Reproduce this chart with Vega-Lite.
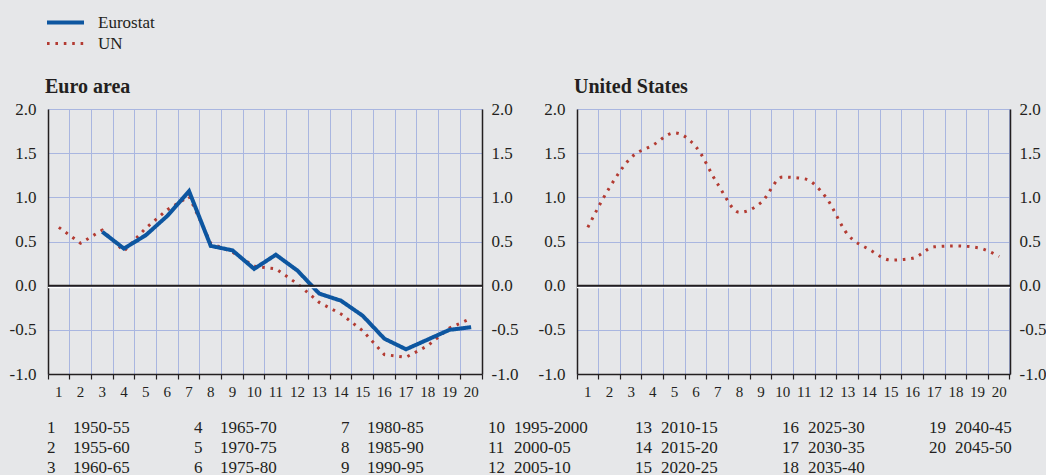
{
  "$schema": "https://vega.github.io/schema/vega-lite/v6.json",
  "background": "#e6e7e9",
  "padding": {"left": 9, "top": 14, "right": 0, "bottom": 0},
  "config": {
    "view": {"stroke": null},
    "font": "Liberation Serif",
    "axis": {"labelFont": "Liberation Serif", "labelColor": "#231f20", "titleFont": "Liberation Serif"},
    "legend": {"labelFont": "Liberation Serif"},
    "text": {"font": "Liberation Serif"}
  },
  "datasets": {
    "series": [
      {"region": "Euro area", "series": "UN", "period": 1, "value": 0.66},
      {"region": "Euro area", "series": "UN", "period": 2, "value": 0.48},
      {"region": "Euro area", "series": "UN", "period": 3, "value": 0.63},
      {"region": "Euro area", "series": "UN", "period": 4, "value": 0.39},
      {"region": "Euro area", "series": "UN", "period": 5, "value": 0.65},
      {"region": "Euro area", "series": "UN", "period": 6, "value": 0.86},
      {"region": "Euro area", "series": "UN", "period": 7, "value": 1.01},
      {"region": "Euro area", "series": "UN", "period": 8, "value": 0.48},
      {"region": "Euro area", "series": "UN", "period": 9, "value": 0.38},
      {"region": "Euro area", "series": "UN", "period": 10, "value": 0.22},
      {"region": "Euro area", "series": "UN", "period": 11, "value": 0.19},
      {"region": "Euro area", "series": "UN", "period": 12, "value": 0.02},
      {"region": "Euro area", "series": "UN", "period": 13, "value": -0.19},
      {"region": "Euro area", "series": "UN", "period": 14, "value": -0.32},
      {"region": "Euro area", "series": "UN", "period": 15, "value": -0.51},
      {"region": "Euro area", "series": "UN", "period": 16, "value": -0.78},
      {"region": "Euro area", "series": "UN", "period": 17, "value": -0.81},
      {"region": "Euro area", "series": "UN", "period": 18, "value": -0.68},
      {"region": "Euro area", "series": "UN", "period": 19, "value": -0.48},
      {"region": "Euro area", "series": "UN", "period": 20, "value": -0.37},
      {"region": "Euro area", "series": "Eurostat", "period": 3, "value": 0.61},
      {"region": "Euro area", "series": "Eurostat", "period": 4, "value": 0.42},
      {"region": "Euro area", "series": "Eurostat", "period": 5, "value": 0.57},
      {"region": "Euro area", "series": "Eurostat", "period": 6, "value": 0.79},
      {"region": "Euro area", "series": "Eurostat", "period": 7, "value": 1.07},
      {"region": "Euro area", "series": "Eurostat", "period": 8, "value": 0.45},
      {"region": "Euro area", "series": "Eurostat", "period": 9, "value": 0.40},
      {"region": "Euro area", "series": "Eurostat", "period": 10, "value": 0.19},
      {"region": "Euro area", "series": "Eurostat", "period": 11, "value": 0.35},
      {"region": "Euro area", "series": "Eurostat", "period": 12, "value": 0.17},
      {"region": "Euro area", "series": "Eurostat", "period": 13, "value": -0.09},
      {"region": "Euro area", "series": "Eurostat", "period": 14, "value": -0.17},
      {"region": "Euro area", "series": "Eurostat", "period": 15, "value": -0.34},
      {"region": "Euro area", "series": "Eurostat", "period": 16, "value": -0.60},
      {"region": "Euro area", "series": "Eurostat", "period": 17, "value": -0.72},
      {"region": "Euro area", "series": "Eurostat", "period": 18, "value": -0.61},
      {"region": "Euro area", "series": "Eurostat", "period": 19, "value": -0.50},
      {"region": "Euro area", "series": "Eurostat", "period": 20, "value": -0.47},
      {"region": "United States", "series": "UN", "period": 1, "value": 0.66},
      {"region": "United States", "series": "UN", "period": 2, "value": 1.11},
      {"region": "United States", "series": "UN", "period": 3, "value": 1.45},
      {"region": "United States", "series": "UN", "period": 4, "value": 1.59},
      {"region": "United States", "series": "UN", "period": 5, "value": 1.73},
      {"region": "United States", "series": "UN", "period": 6, "value": 1.57},
      {"region": "United States", "series": "UN", "period": 7, "value": 1.15},
      {"region": "United States", "series": "UN", "period": 8, "value": 0.83},
      {"region": "United States", "series": "UN", "period": 9, "value": 0.94},
      {"region": "United States", "series": "UN", "period": 10, "value": 1.23},
      {"region": "United States", "series": "UN", "period": 11, "value": 1.21},
      {"region": "United States", "series": "UN", "period": 12, "value": 1.00},
      {"region": "United States", "series": "UN", "period": 13, "value": 0.58},
      {"region": "United States", "series": "UN", "period": 14, "value": 0.41},
      {"region": "United States", "series": "UN", "period": 15, "value": 0.29},
      {"region": "United States", "series": "UN", "period": 16, "value": 0.31},
      {"region": "United States", "series": "UN", "period": 17, "value": 0.44},
      {"region": "United States", "series": "UN", "period": 18, "value": 0.45},
      {"region": "United States", "series": "UN", "period": 19, "value": 0.43},
      {"region": "United States", "series": "UN", "period": 20, "value": 0.33}
    ],
    "periods": [
      {"n": 1, "years": "1950-55"}, {"n": 2, "years": "1955-60"}, {"n": 3, "years": "1960-65"},
      {"n": 4, "years": "1965-70"}, {"n": 5, "years": "1970-75"}, {"n": 6, "years": "1975-80"},
      {"n": 7, "years": "1980-85"}, {"n": 8, "years": "1985-90"}, {"n": 9, "years": "1990-95"},
      {"n": 10, "years": "1995-2000"}, {"n": 11, "years": "2000-05"}, {"n": 12, "years": "2005-10"},
      {"n": 13, "years": "2010-15"}, {"n": 14, "years": "2015-20"}, {"n": 15, "years": "2020-25"},
      {"n": 16, "years": "2025-30"}, {"n": 17, "years": "2030-35"}, {"n": 18, "years": "2035-40"},
      {"n": 19, "years": "2040-45"}, {"n": 20, "years": "2045-50"}
    ]
  },
  "vconcat": [
    {
      "spacing": 20,
      "hconcat": [
        {
          "width": 434,
          "height": 265,
          "title": {"text": "Euro area", "anchor": "start", "frame": "group", "fontSize": 20, "fontWeight": "bold", "color": "#231f20", "offset": 3, "dx": -3, "font": "Liberation Serif"},
          "data": {"name": "series"},
          "transform": [{"filter": "datum.region === 'Euro area'"}],
          "layer": [
            {
              "mark": {"type": "line", "interpolate": "linear"},
              "encoding": {
                "x": {
                  "field": "period", "type": "ordinal", "bandPosition": 0.5,
                  "scale": {"type": "band", "domain": [1,2,3,4,5,6,7,8,9,10,11,12,13,14,15,16,17,18,19,20], "paddingInner": 0, "paddingOuter": 0},
                  "axis": {"title": null, "bandPosition": 1, "tickExtra": true, "grid": true, "gridColor": "#a9b6e0", "gridWidth": 1, "gridOpacity": 1, "domainColor": "#231f20", "domainWidth": 1.5, "tickColor": "#231f20", "tickSize": 5, "tickWidth": 1.2, "labelFontSize": 15, "labelPadding": 5, "labelAngle": 0, "labelOverlap": false}
                },
                "y": {
                  "field": "value", "type": "quantitative",
                  "scale": {"domain": [-1, 2], "nice": false, "zero": false},
                  "axis": {"title": null, "values": [-1, -0.5, 0, 0.5, 1, 1.5, 2], "grid": true, "gridColor": "#a9b6e0", "gridOpacity": 1, "ticks": false, "domainColor": "#231f20", "domainWidth": 1.5, "labelFontSize": 17, "labelPadding": 12, "labelExpr": "datum.value < 0 ? '-' + format(-datum.value, '.1f') : format(datum.value, '.1f')"}
                },
                "color": {
                  "field": "series", "type": "nominal",
                  "scale": {"domain": ["Eurostat", "UN"], "range": ["#0d56a0", "#b33b32"]},
                  "legend": {"orient": "none", "legendX": -3, "legendY": -95, "title": null, "symbolType": "stroke", "symbolSize": 1369, "labelFontSize": 17, "labelColor": "#231f20", "labelOffset": 12, "rowPadding": 3, "clipHeight": 17}
                },
                "strokeDash": {
                  "field": "series", "type": "nominal",
                  "scale": {"domain": ["Eurostat", "UN"], "range": [[1, 0], [2.6, 5.8]]},
                  "legend": {"orient": "none", "legendX": -3, "legendY": -95, "title": null, "symbolType": "stroke", "symbolSize": 1369, "labelFontSize": 17, "labelColor": "#231f20", "labelOffset": 12, "rowPadding": 3, "clipHeight": 17}
                },
                "strokeWidth": {
                  "field": "series", "type": "nominal",
                  "scale": {"domain": ["Eurostat", "UN"], "range": [4, 3]},
                  "legend": {"orient": "none", "legendX": -3, "legendY": -95, "title": null, "symbolType": "stroke", "symbolSize": 1369, "labelFontSize": 17, "labelColor": "#231f20", "labelOffset": 12, "rowPadding": 3, "clipHeight": 17}
                }
              }
            },
            {
              "data": {"values": [{}]},
              "mark": {"type": "rule", "color": "#ffffff", "strokeWidth": 1.5, "yOffset": 1.8},
              "encoding": {"y": {"datum": 0, "type": "quantitative", "axis": null}}
            },
            {
              "data": {"values": [{}]},
              "mark": {"type": "rule", "color": "#231f20", "strokeWidth": 2},
              "encoding": {
                "y": {"datum": 0, "type": "quantitative", "axis": {"orient": "right", "title": null, "values": [-1, -0.5, 0, 0.5, 1, 1.5, 2], "grid": false, "ticks": false, "domainColor": "#231f20", "domainWidth": 1.5, "labelFontSize": 17, "labelPadding": 9, "labelExpr": "datum.value < 0 ? '-' + format(-datum.value, '.1f') : format(datum.value, '.1f')"}}
              }
            }
          ],
          "resolve": {"axis": {"y": "independent"}}
        },
        {
          "width": 433,
          "height": 265,
          "title": {"text": "United States", "anchor": "start", "frame": "group", "fontSize": 20, "fontWeight": "bold", "color": "#231f20", "offset": 3, "dx": -3, "font": "Liberation Serif"},
          "data": {"name": "series"},
          "transform": [{"filter": "datum.region === 'United States'"}],
          "layer": [
            {
              "mark": {"type": "line", "interpolate": "monotone"},
              "encoding": {
                "x": {
                  "field": "period", "type": "ordinal", "bandPosition": 0.5,
                  "scale": {"type": "band", "domain": [1,2,3,4,5,6,7,8,9,10,11,12,13,14,15,16,17,18,19,20], "paddingInner": 0, "paddingOuter": 0},
                  "axis": {"title": null, "bandPosition": 1, "tickExtra": true, "grid": true, "gridColor": "#a9b6e0", "gridWidth": 1, "gridOpacity": 1, "domainColor": "#231f20", "domainWidth": 1.5, "tickColor": "#231f20", "tickSize": 5, "tickWidth": 1.2, "labelFontSize": 15, "labelPadding": 5, "labelAngle": 0, "labelOverlap": false}
                },
                "y": {
                  "field": "value", "type": "quantitative",
                  "scale": {"domain": [-1, 2], "nice": false, "zero": false},
                  "axis": {"title": null, "values": [-1, -0.5, 0, 0.5, 1, 1.5, 2], "grid": true, "gridColor": "#a9b6e0", "gridOpacity": 1, "ticks": false, "domainColor": "#231f20", "domainWidth": 1.5, "labelFontSize": 17, "labelPadding": 12, "labelExpr": "datum.value < 0 ? '-' + format(-datum.value, '.1f') : format(datum.value, '.1f')"}
                },
                "color": {
                  "field": "series", "type": "nominal",
                  "scale": {"domain": ["Eurostat", "UN"], "range": ["#0d56a0", "#b33b32"]},
                  "legend": {"orient": "none", "legendX": -3, "legendY": -95, "title": null, "symbolType": "stroke", "symbolSize": 1369, "labelFontSize": 17, "labelColor": "#231f20", "labelOffset": 12, "rowPadding": 3, "clipHeight": 17}
                },
                "strokeDash": {
                  "field": "series", "type": "nominal",
                  "scale": {"domain": ["Eurostat", "UN"], "range": [[1, 0], [2.6, 5.8]]},
                  "legend": {"orient": "none", "legendX": -3, "legendY": -95, "title": null, "symbolType": "stroke", "symbolSize": 1369, "labelFontSize": 17, "labelColor": "#231f20", "labelOffset": 12, "rowPadding": 3, "clipHeight": 17}
                },
                "strokeWidth": {
                  "field": "series", "type": "nominal",
                  "scale": {"domain": ["Eurostat", "UN"], "range": [4, 3]},
                  "legend": {"orient": "none", "legendX": -3, "legendY": -95, "title": null, "symbolType": "stroke", "symbolSize": 1369, "labelFontSize": 17, "labelColor": "#231f20", "labelOffset": 12, "rowPadding": 3, "clipHeight": 17}
                }
              }
            },
            {
              "data": {"values": [{}]},
              "mark": {"type": "rule", "color": "#ffffff", "strokeWidth": 1.5, "yOffset": 1.8},
              "encoding": {"y": {"datum": 0, "type": "quantitative", "axis": null}}
            },
            {
              "data": {"values": [{}]},
              "mark": {"type": "rule", "color": "#231f20", "strokeWidth": 2},
              "encoding": {
                "y": {"datum": 0, "type": "quantitative", "axis": {"orient": "right", "title": null, "values": [-1, -0.5, 0, 0.5, 1, 1.5, 2], "grid": false, "ticks": false, "domainColor": "#231f20", "domainWidth": 1.5, "labelFontSize": 17, "labelPadding": 9, "labelExpr": "datum.value < 0 ? '-' + format(-datum.value, '.1f') : format(datum.value, '.1f')"}}
              }
            }
          ],
          "resolve": {"axis": {"y": "independent"}}
        }
      ]
    },
    {
      "width": 882,
      "height": 40,
      "data": {"name": "periods"},
      "transform": [
        {"calculate": "floor((datum.n - 1) / 3)", "as": "col"},
        {"calculate": "(datum.n - 1) % 3", "as": "row"}
      ],
      "encoding": {
        "x": {"field": "col", "type": "ordinal", "scale": {"type": "point", "padding": 0}, "axis": null},
        "y": {"field": "row", "type": "ordinal", "scale": {"type": "point", "padding": 0}, "axis": null}
      },
      "layer": [
        {"mark": {"type": "text", "align": "left", "baseline": "middle", "fontSize": 17, "color": "#231f20", "dx": -1}, "encoding": {"text": {"field": "n"}}},
        {"mark": {"type": "text", "align": "left", "baseline": "middle", "fontSize": 17, "color": "#231f20", "dx": 25}, "encoding": {"text": {"field": "years"}}}
      ]
    }
  ],
  "spacing": 20
}
